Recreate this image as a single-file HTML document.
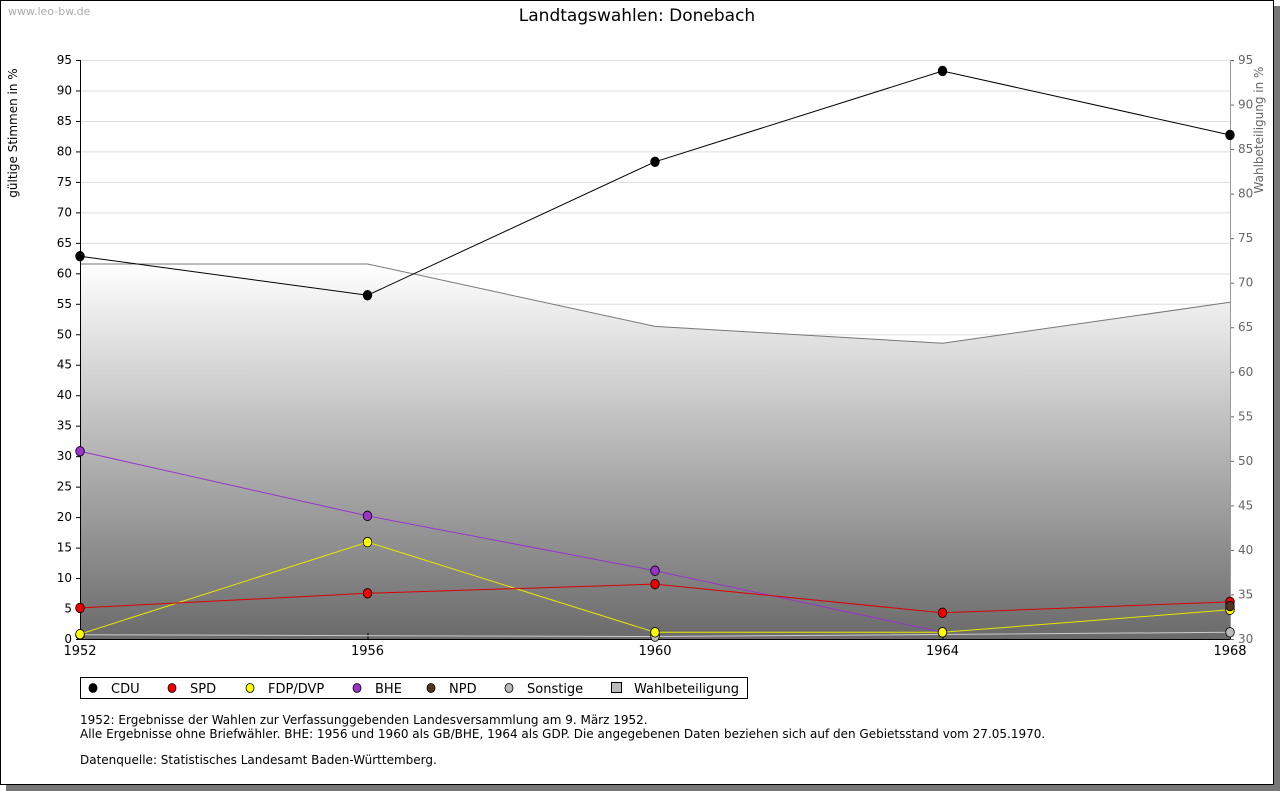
<!DOCTYPE html>
<html><head><meta charset="utf-8"><style>
body{margin:0;width:1280px;height:791px;background:#fff;font-family:"DejaVu Sans","Liberation Sans",sans-serif;overflow:hidden}
</style></head><body>
<svg width="1280" height="791" xmlns="http://www.w3.org/2000/svg" id="chart" font-family="DejaVu Sans, Liberation Sans, sans-serif">
<defs><linearGradient id="g" x1="0" y1="0" x2="0" y2="1"><stop offset="0" stop-color="#ffffff"/><stop offset="1" stop-color="#6a6a6a"/></linearGradient></defs>
<rect x="6" y="6" width="1274" height="785" fill="#777"/>
<rect x="0.5" y="0.5" width="1273" height="784" fill="#fff" stroke="#000"/>
<text x="8" y="15" font-size="11" fill="#aaa">www.leo-bw.de</text>
<text x="637" y="21" font-size="17" text-anchor="middle">Landtagswahlen: Donebach</text>
<text transform="translate(17,133) rotate(-90)" font-size="12" text-anchor="middle">gültige Stimmen in %</text>
<text transform="translate(1263,130) rotate(-90)" font-size="12" fill="#666" text-anchor="middle">Wahlbeteiligung in %</text>
<g id="grid"></g><g id="area"></g><g id="axes"></g><g id="series"></g>
<rect x="80.5" y="677.5" width="667" height="21" fill="#fff" stroke="#000"/>
<g id="legend" font-size="13"></g>
<g font-size="12">
<text x="80" y="724">1952: Ergebnisse der Wahlen zur Verfassunggebenden Landesversammlung am 9. März 1952.</text>
<text x="80" y="738">Alle Ergebnisse ohne Briefwähler. BHE: 1956 und 1960 als GB/BHE, 1964 als GDP. Die angegebenen Daten beziehen sich auf den Gebietsstand vom 27.05.1970.</text>
<text x="80" y="764">Datenquelle: Statistisches Landesamt Baden-Württemberg.</text>
</g>
</svg>
<script>
const years=[1952,1956,1960,1964,1968];
const turnout=[72.1,72.1,65.1,63.2,67.8];
const cdu=[62.8,56.4,78.3,93.2,82.7];
const spd=[5.1,7.5,9.0,4.3,6.1];
const fdp=[0.8,15.9,1.1,1.1,4.8];
const bhe=[30.8,20.2,11.2,1.1,null];
const npd=[null,null,null,null,5.4];
const sonst=[0.7,null,0.4,null,1.1];
const leftTicks=[0,5,10,15,20,25,30,35,40,45,50,55,60,65,70,75,80,85,90,95];
const rightTicks=[30,35,40,45,50,55,60,65,70,75,80,85,90,95];
const NS="http://www.w3.org/2000/svg";
const X0=80,X1=1230,Y0=639,Y1=60;
const x=yr=>X0+(yr-1952)/(1968-1952)*(X1-X0);
const y=v=>Y0-v/95*(Y0-Y1);
const y2=v=>Y0-(v-30)/65*(Y0-Y1);
function mk(p,t,a){const e=document.createElementNS(NS,t);for(const k in a)e.setAttribute(k,a[k]);p.appendChild(e);return e;}
const grid=document.getElementById('grid'),axes=document.getElementById('axes'),area=document.getElementById('area'),ser=document.getElementById('series'),leg=document.getElementById('legend');
leftTicks.forEach(t=>{const l=mk(grid,'line',{x1:X0,x2:X1,y1:y(t)+.5,y2:y(t)+.5,stroke:'#ddd'});


const tx=mk(axes,'text',{x:72,y:y(t)+4,'font-size':12,'text-anchor':'end'});tx.textContent=t;


mk(axes,'line',{x1:X0-4,x2:X0,y1:y(t)+.5,y2:y(t)+.5,stroke:'#000'});});
rightTicks.forEach(t=>{const tx=mk(axes,'text',{x:1238,y:y2(t)+4,'font-size':12,fill:'#666'});tx.textContent=t;


mk(axes,'line',{x1:X1,x2:X1+4,y1:y2(t)+.5,y2:y2(t)+.5,stroke:'#666'});});
let d='M'+x(years[0])+','+Y0;years.forEach((yr,i)=>d+=' L'+x(yr)+','+y2(turnout[i]));d+=' L'+X1+','+Y0+'Z';
const ar=mk(area,'path',{d:d,fill:'url(#g)'});


const tl=mk(area,'polyline',{points:years.map((yr,i)=>x(yr)+','+y2(turnout[i])).join(' '),fill:'none',stroke:'#777'});


mk(axes,'line',{x1:X0+.5,x2:X0+.5,y1:Y1,y2:Y0,stroke:'#000'});
mk(axes,'line',{x1:X1+.5,x2:X1+.5,y1:Y1,y2:Y0,stroke:'#999'});
mk(axes,'line',{x1:X0,x2:X1,y1:Y0+.5,y2:Y0+.5,stroke:'#000'});
years.forEach(yr=>{mk(axes,'line',{x1:x(yr)+.5,x2:x(yr)+.5,y1:Y0-6,y2:Y0,stroke:'#000'});
const tx=mk(axes,'text',{x:x(yr),y:Y0+16,'font-size':13,'text-anchor':'middle'});tx.textContent=yr;

});
function series(vals,color,line,name){const pts=[];vals.forEach((v,i)=>{if(v!=null)pts.push([x(years[i]),y(v)]);});
if(pts.length>1){const p=mk(ser,'polyline',{points:pts.map(p=>p.join(',')).join(' '),fill:'none',stroke:line});

}
pts.forEach(p=>{const m=mk(ser,'ellipse',{cx:p[0],cy:p[1],rx:4.3,ry:4.8,fill:color,stroke:'#000','stroke-width':.8});

});}
series(sonst,'#bbb','#ccc','sonstige');
series(bhe,'#9933cc','#9933cc','bhe');
series(fdp,'#ffff00','#e6e600','fdp');
series(spd,'#ee0000','#dd0000','spd');
series(npd,'#553322','#553322','npd');
series(cdu,'#000','#000','cdu');
const legItems=[['CDU','#000',93],['SPD','#e00',172],['FDP/DVP','#ff0',250],['BHE','#9933cc',357],['NPD','#553322',431],['Sonstige','#bbb',509]];
legItems.forEach(([n,c,lx])=>{const m=mk(leg,'ellipse',{cx:lx,cy:688,rx:4,ry:4.5,fill:c,stroke:'#000','stroke-width':.8});


const t=mk(leg,'text',{x:lx+18,y:693});t.textContent=n;

});
const sq=mk(leg,'rect',{x:611.5,y:682.5,width:10,height:10,fill:'#bbb',stroke:'#000'});


const wt=mk(leg,'text',{x:634,y:693});wt.textContent='Wahlbeteiligung';


</script>
</body></html>
